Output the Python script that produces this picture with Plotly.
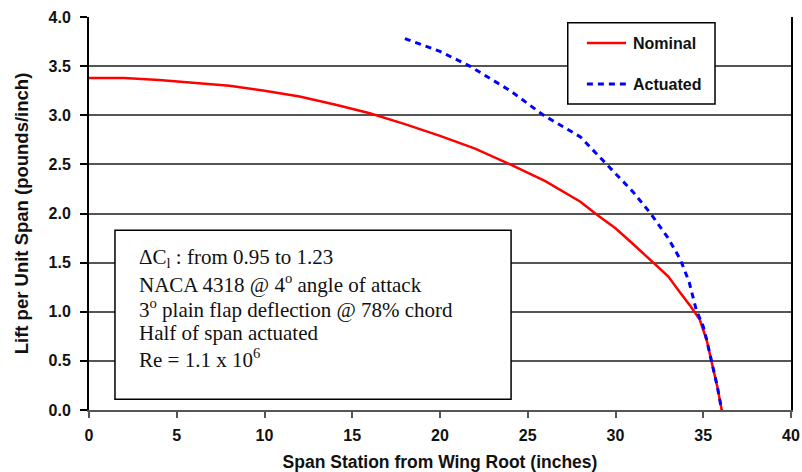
import plotly.graph_objects as go

# Spanwise lift distribution, nominal wing vs. half-span actuated flap
nominal_x = [0, 2, 4, 6, 8, 10, 12, 14, 16, 18, 20, 22, 24, 26, 28, 29, 30, 31,
             32, 33, 33.7, 34.3, 34.8, 35.2, 35.5, 35.8, 36.05]
nominal_y = [3.38, 3.38, 3.36, 3.33, 3.30, 3.25, 3.19, 3.11, 3.02, 2.91, 2.79, 2.66,
             2.50, 2.33, 2.12, 1.98, 1.85, 1.69, 1.52, 1.36, 1.19, 1.05, 0.92, 0.71,
             0.47, 0.24, 0.0]

actuated_x = [18, 20, 21.7, 24, 25.9, 28, 29.5, 31, 32, 33, 33.7, 34.2, 34.6, 35.0,
              35.2, 35.5, 35.8, 36.05]
actuated_y = [3.78, 3.65, 3.50, 3.25, 3.00, 2.78, 2.50, 2.22, 2.00, 1.75, 1.53, 1.30,
              1.02, 0.85, 0.71, 0.47, 0.24, 0.0]

x_ticks = [0, 5, 10, 15, 20, 25, 30, 35, 40]
y_ticks = [0.0, 0.5, 1.0, 1.5, 2.0, 2.5, 3.0, 3.5, 4.0]

series_names = ["Nominal", "Actuated"]
series_colors = ["#ff0000", "#0000ff"]

note_lines = [
    "ΔC<sub>l</sub> : from 0.95 to 1.23",
    "NACA 4318 @ 4<sup>o</sup> angle of attack",
    "3<sup>o</sup> plain flap deflection @ 78% chord",
    "Half of span actuated",
    "Re = 1.1 x 10<sup>6</sup>",
]

fig = go.Figure()
fig.add_trace(go.Scatter(x=nominal_x, y=nominal_y, mode="lines", name=series_names[0],
                         line=dict(color=series_colors[0], width=2.5), showlegend=False))
fig.add_trace(go.Scatter(x=actuated_x, y=actuated_y, mode="lines", name=series_names[1],
                         line=dict(color=series_colors[1], width=3, dash="6px,5px"),
                         showlegend=False))

grid_col = "#555555"
sans = "Liberation Sans, Arial, sans-serif"
axis_font = dict(family=sans, size=16, color="#111111")

fig.update_layout(
    width=802, height=472,
    margin=dict(l=89, r=11, t=17, b=62, autoexpand=False),
    paper_bgcolor="white", plot_bgcolor="white",
    font=dict(family=sans, color="#111111"),
    xaxis=dict(
        range=[0, 40], tickvals=x_ticks, ticktext=[f"<b>{v}</b>" for v in x_ticks],
        showgrid=False, zeroline=False, automargin=False,
        showline=True, linecolor=grid_col, linewidth=2,
        ticks="outside", ticklen=6, tickcolor=grid_col, tickwidth=1.5,
        ticklabelstandoff=4,
        tickfont=axis_font,
        title=dict(text="<b>Span Station from Wing Root (inches)</b>",
                   font=dict(family=sans, size=17.5, color="#111111"),
                   standoff=18),
    ),
    yaxis=dict(
        range=[0, 4], tickvals=y_ticks, ticktext=[f"<b>{v:.1f}</b>" for v in y_ticks],
        showgrid=True, gridcolor=grid_col, gridwidth=1.5, zeroline=False, automargin=False,
        showline=True, linecolor="black", linewidth=2, mirror=True,
        ticks="outside", ticklen=7, tickcolor="black", tickwidth=1.5,
        ticklabelstandoff=6,
        tickfont=axis_font,
        title=dict(text="<b>Lift per Unit Span (pounds/inch)</b>",
                   font=dict(family=sans, size=18.5, color="#111111"),
                   standoff=15),
    ),
)

# Annotation box with test conditions
fig.add_shape(type="rect", xref="x", yref="y", x0=1.48, x1=24.05, y0=0.11, y1=1.83,
              line=dict(color="black", width=1.5), fillcolor="white", layer="above")
line_step = 25 / 98.25
for i, txt in enumerate(note_lines):
    fig.add_annotation(xref="x", yref="y", x=2.73, y=1.547 - i * line_step,
                       xanchor="left", yanchor="middle", align="left", showarrow=False,
                       text=txt,
                       font=dict(family="Liberation Serif, Times New Roman, serif",
                                 size=21, color="#111111"))

# Legend box
fig.add_shape(type="rect", xref="x", yref="y", x0=27.28, x1=35.67, y0=3.115, y1=3.942,
              line=dict(color="black", width=1.5), fillcolor="white", layer="above")
legend_rows = [3.735, 3.318]
legend_dash = ["solid", "6px,5px"]
legend_width = [2.5, 3]
for name, color, yrow, dash, w in zip(series_names, series_colors, legend_rows,
                                      legend_dash, legend_width):
    fig.add_shape(type="line", xref="x", yref="y", x0=28.37, x1=30.6, y0=yrow, y1=yrow,
                  line=dict(color=color, width=w, dash=dash), layer="above")
    fig.add_annotation(xref="x", yref="y", x=30.88, y=yrow, xanchor="left", yanchor="middle",
                       showarrow=False, text=f"<b>{name}</b>",
                       font=dict(family=sans, size=16, color="#111111"))

fig.write_html("out.html")
